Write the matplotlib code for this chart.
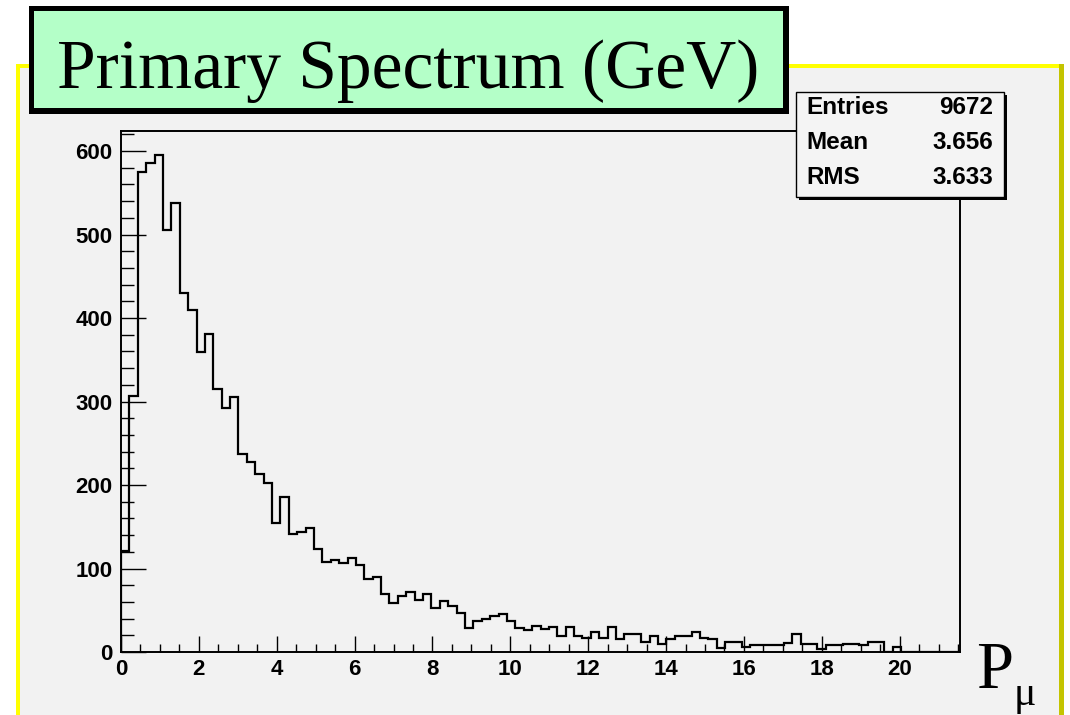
import matplotlib
matplotlib.use("Agg")
import matplotlib.pyplot as plt
from matplotlib.patches import Rectangle
from matplotlib.ticker import MultipleLocator
import numpy as np

# ---------------- data ----------------
counts = [121, 307, 575, 586, 595, 506, 538, 430, 410, 359,
          381, 315, 292, 306, 237, 228, 213, 203, 154, 186,
          141, 144, 148, 123, 108, 110, 106, 113, 104, 87,
          90, 69, 59, 67, 72, 62, 70, 53, 61, 55,
          47, 29, 37, 40, 43, 45, 37, 29, 26, 31,
          28, 30, 19, 30, 19, 17, 24, 17, 30, 16,
          22, 21, 12, 19, 10, 15, 19, 19, 24, 17,
          15, 5, 12, 12, 6, 8, 8, 8, 8, 11,
          21, 10, 10, 3, 8, 8, 10, 10, 8, 12,
          12, 0, 6, 0, 0, 0, 0, 0, 0, 0]
x_lo, x_hi = 0.0, 21.55
stat_names = ["Entries", "Mean", "RMS"]
stat_values = ["9672", "3.656", "3.633"]
title = "Primary Spectrum (GeV)"

# ---------------- figure ----------------
W, H = 1070, 715
fig = plt.figure(figsize=(W / 100, H / 100), dpi=100)
fig.patch.set_facecolor("white")


def fx(px):
    return px / W


def fy(py):
    return 1 - py / H


def box(x0, y0, x1, y1, color, z, **kw):
    r = Rectangle((fx(x0), fy(y1)), fx(x1) - fx(x0), fy(y0) - fy(y1),
                  transform=fig.transFigure, facecolor=color, zorder=z, **kw)
    fig.patches.append(r)
    return r


# pad frame (yellow / olive border, grey inside)
box(16, 64, 1064, 716, "#ffff00", -3, edgecolor="none")
box(1059, 64, 1064, 716, "#c4c400", -2, edgecolor="none")
box(20, 68, 1059, 716, "#f2f2f2", -1, edgecolor="none")

# histogram axes
ax = fig.add_axes([fx(121), fy(652), fx(960) - fx(121), fy(131) - fy(652)])
ax.set_facecolor("#f2f2f2")
edges = np.linspace(x_lo, x_hi, len(counts) + 1)
ax.stairs(counts, edges, color="black", lw=1.6)
ax.set_xlim(x_lo, x_hi)
ax.set_ylim(0, 624)

for s in ax.spines.values():
    s.set_linewidth(1.4)

ax.xaxis.set_major_locator(MultipleLocator(2))
ax.xaxis.set_minor_locator(MultipleLocator(0.5))
ax.yaxis.set_major_locator(MultipleLocator(100))
ax.yaxis.set_minor_locator(MultipleLocator(20))
ax.tick_params(which="both", direction="in", top=False, right=False, width=1.0)
ax.tick_params(axis="y", which="major", length=18, pad=6)
ax.tick_params(axis="y", which="minor", length=9)
ax.tick_params(axis="x", which="major", length=11.5, pad=5)
ax.tick_params(axis="x", which="minor", length=6)
for lab in ax.get_xticklabels() + ax.get_yticklabels():
    lab.set_fontfamily("Liberation Sans")
    lab.set_fontweight("bold")
    lab.set_fontsize(16)

# title box
box(29, 6, 789, 114, "black", 5, edgecolor="none")
box(34, 11, 783, 108, "#b4ffc8", 6, edgecolor="none")
fig.text(fx(408), fy(88), title, ha="center", va="baseline",
         family="Liberation Serif", fontsize=50, zorder=7)

# stats box
box(799, 95, 1007, 200, "black", 5, edgecolor="none")
box(796, 92, 1004, 197, "#f4f4f4", 6, edgecolor="black", linewidth=1.0)
for i, (name, val) in enumerate(zip(stat_names, stat_values)):
    yy = fy(107 + i * 35.5)
    fig.text(fx(806), yy, name, ha="left", va="center", family="Liberation Sans",
             fontweight="bold", fontsize=17.5, zorder=7)
    fig.text(fx(993), yy, val, ha="right", va="center", family="Liberation Sans",
             fontweight="bold", fontsize=17.5, zorder=7)

# axis label P_mu
fig.text(fx(976), fy(688), "P", ha="left", va="baseline",
         family="Liberation Serif", fontsize=48, zorder=7)
fig.text(fx(1014), fy(705), "μ", ha="left", va="baseline",
         family="Liberation Serif", fontsize=30, zorder=7)

fig.savefig("out.png", dpi=100)
